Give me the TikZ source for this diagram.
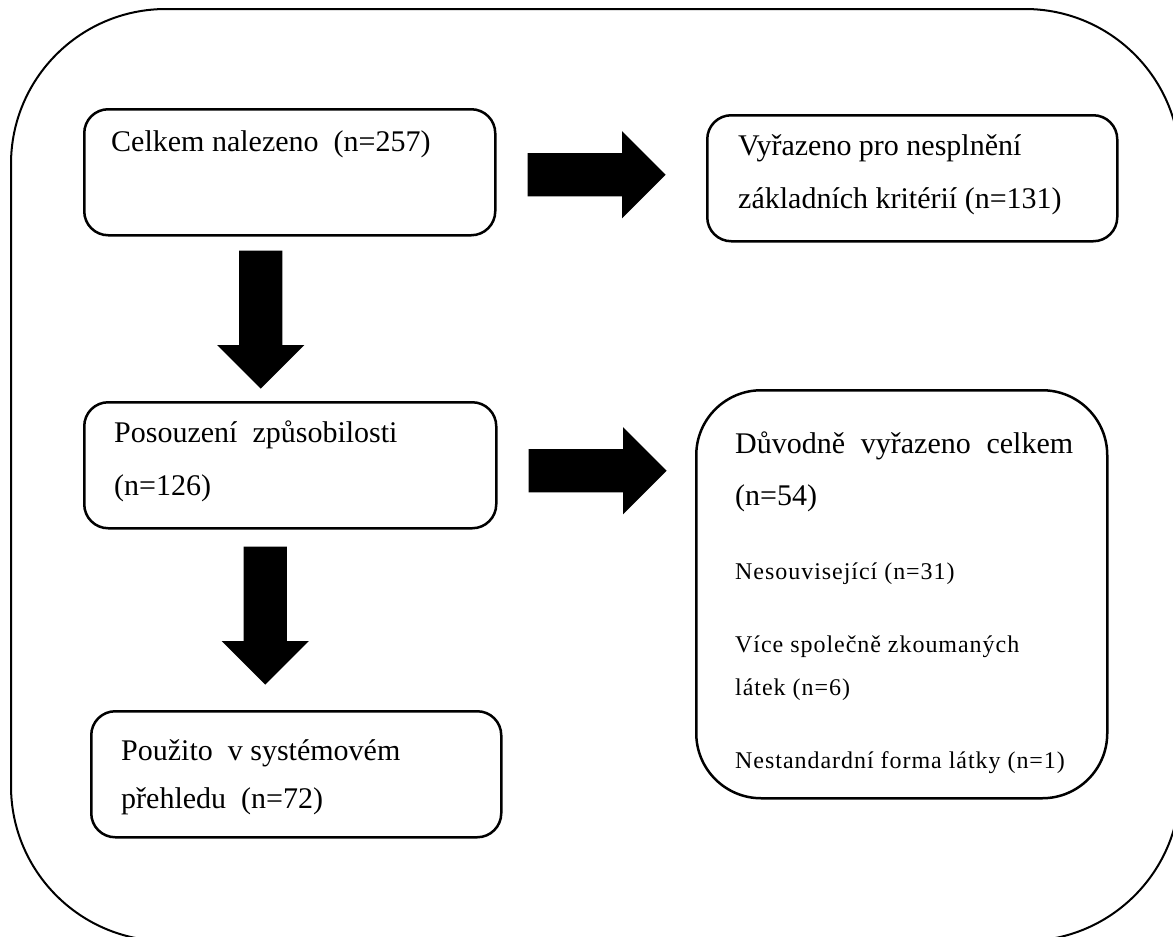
\documentclass[tikz,border=0pt]{standalone}
\usepackage{fontspec}
\setmainfont{Liberation Serif}
\newfontfamily\smallfont[LetterSpace=4]{Liberation Serif}
\usetikzlibrary{shapes.arrows}

\tikzset{
  box/.style={draw, line width=2.5pt, rounded corners=24pt, anchor=north west, inner sep=0pt},
  txt/.style={anchor=base west, inner sep=0pt, align=left, font=\fontsize{30}{53}\selectfont},
  smalltxt/.style={anchor=base west, inner sep=0pt, align=left, font=\smallfont\fontsize{24}{43}\selectfont},
  bigarrow/.style={single arrow, fill=black, inner sep=21.5pt, minimum width=87pt,
    minimum height=138pt, single arrow head extend=22pt, anchor=tail}
}

\begin{document}
\begin{tikzpicture}[x=1pt,y=-1pt]
  \useasboundingbox (0,0) rectangle (1173,937);
  \clip (0,0) rectangle (1173,937);
  \draw[line width=2pt, rounded corners=155pt] (11,9) rectangle (1180,941);

  % boxes
  \node[box, minimum width=411pt, minimum height=126pt] (found) at (83,108) {};
  \node[box, minimum width=410pt, minimum height=126pt] (excl) at (706,114) {};
  \node[box, minimum width=412pt, minimum height=126pt] (assess) at (83,401) {};
  \node[box, minimum width=411pt, minimum height=408pt, rounded corners=65pt] (reasons) at (695,389) {};
  \node[box, minimum width=410pt, minimum height=126pt] (used) at (90,710) {};

  % texts (base = last line)
  \node[txt] (found-t) at (111,151) {Celkem nalezeno\ \ (n=257)};
  \node[txt] (excl-t) at (738,208) {Vyřazeno pro nesplnění\\základních kritérií (n=131)};
  \node[txt] (assess-t) at (114,495) {Posouzení\ \ způsobilosti\\(n=126)};
  \node[txt, font=\fontsize{30}{48}\selectfont] (used-t) at (121,808) {Použito\ \ v systémovém\\přehledu\ \ (n=72)};
  \node[txt, font=\fontsize{30}{52}\selectfont] (reasons-t) at (735,505) {\makebox[338pt][s]{Důvodně vyřazeno celkem}\\(n=54)};
  \node[smalltxt] (r1) at (735,579) {Nesouvisející (n=31)};
  \node[smalltxt] (r2) at (735,695) {Více společně zkoumaných\\látek (n=6)};
  \node[smalltxt] (r3) at (735,768) {Nestandardní forma látky (n=1)};

  % arrows
  \node[bigarrow] (a1) at ([shift={(31,2.5)}]found.east) {};
  \node[bigarrow] (a2) at ([shift={(31,5.5)}]assess.east) {};
  \node[bigarrow, shape border rotate=270] (d1) at ([shift={(-29,14)}]found.south) {};
  \node[bigarrow, shape border rotate=270] (d2) at ([shift={(-25,17)}]assess.south) {};
\end{tikzpicture}
\end{document}
